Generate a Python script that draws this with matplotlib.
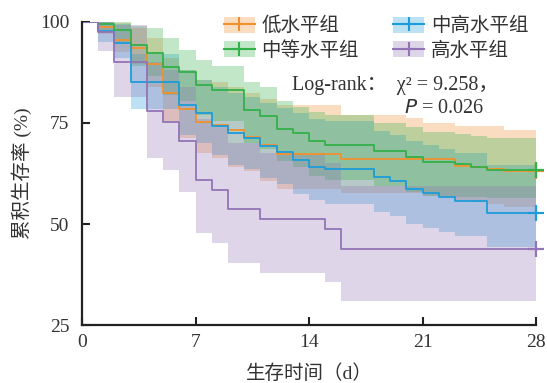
import matplotlib
matplotlib.use('Agg')
import matplotlib.pyplot as plt
from matplotlib.patches import Patch
from matplotlib.lines import Line2D

plt.rcParams['font.family'] = ['Liberation Serif', 'Noto Sans CJK SC']
plt.rcParams['axes.unicode_minus'] = False

# ── Data ──────────────────────────────────────────────────────
groups = ['低水平组', '中高水平组', '中等水平组', '高水平组']
colors = ['#F0912F', '#1E9CD8', '#33B04A', '#9274B6']
end_day = 28

low_t   = [0, 1, 2, 3, 4, 5, 6, 7, 8, 9, 10, 11, 12, 16, 20, 21, 23, 24, 25, 26]
low_s   = [100, 98.6, 95.5, 93.5, 89.5, 82.4, 78.5, 75.3, 74.6, 73.3, 71.5, 69.6, 67.4, 66.2, 66.2, 66.2, 64.4, 64.0, 63.6, 63.1]
low_lo  = [100, 97, 92.5, 89.5, 84, 75.5, 71.2, 67.5, 66.3, 64.2, 63, 60.6, 58.7, 57.6, 57.6, 57, 56, 55.5, 55, 54.3]
low_hi  = [100, 100, 99.7, 98.5, 96, 91, 88, 85.5, 85, 84, 82.5, 81, 79.5, 77, 76.2, 75.1, 74.3, 74.3, 74.3, 73.3]

mh_t    = [0, 1, 2, 3, 6, 7, 8, 9, 10, 11, 12, 13, 14, 15, 18, 19, 20, 21, 22, 23, 25]
mh_s    = [100, 97.8, 94.7, 85, 79.5, 77.5, 74.3, 72.4, 71.2, 69.4, 67.9, 65.8, 64.2, 63.5, 61.7, 60.7, 58.6, 57.7, 56.8, 55.8, 52.8]
mh_lo   = [100, 95, 91, 78.5, 72, 70, 67, 64.5, 63.5, 61.5, 60, 57.5, 56, 55, 53, 52, 50, 49, 48, 47, 44.4]
mh_hi   = [100, 100, 99.5, 92, 88, 85.5, 84, 82.5, 81.5, 80, 78.7, 77.5, 76, 75.5, 73, 72, 70.5, 69.5, 68.5, 67.5, 64.5]

mid_t   = [0, 1, 2, 3, 4, 5, 6, 7, 8, 10, 11, 12, 13, 14, 15, 18, 20, 21, 23, 24, 25]
mid_s   = [100, 99.5, 98, 94.3, 92.2, 88.9, 87.7, 84.4, 83.2, 78.3, 76.7, 73.6, 72.4, 70.6, 69.5, 68.1, 66.5, 65.3, 64.8, 64.2, 63.3]
mid_lo  = [100, 98, 95, 89, 86.5, 82, 80.5, 77, 75.5, 70, 68.5, 65.5, 64, 62, 61, 59.5, 58, 57, 56.8, 56.6, 56.4]
mid_hi  = [100, 100, 100, 99, 98.5, 96, 93, 90.5, 89, 85.2, 83.8, 80.5, 79, 77.8, 77, 75, 74, 72.8, 72.2, 71.8, 71.2]

high_t  = [0, 1, 2, 4, 5, 6, 7, 8, 9, 11, 15, 16]
high_s  = [100, 97.5, 90, 78, 75.3, 70.5, 61, 58.5, 53.6, 51.2, 48.8, 43.9]
high_lo = [100, 92.8, 81.5, 66.3, 63.4, 58, 47.7, 45.2, 40.3, 37.9, 35.6, 31]
high_hi = [100, 100, 99.3, 90, 88, 84, 76, 74, 70, 67.5, 65, 59.5]

series = [
    (low_t, low_s, low_lo, low_hi),
    (mh_t, mh_s, mh_lo, mh_hi),
    (mid_t, mid_s, mid_lo, mid_hi),
    (high_t, high_s, high_lo, high_hi),
]

# ── Plot ───────────────────────────────────────────────────────
fig = plt.figure(figsize=(5.47, 3.83), dpi=100)
ax = fig.add_axes([0.150, 0.151, 0.830, 0.792])

for (t, s, lo, hi), c in zip(series, colors):
    tt = t + [end_day]
    ax.fill_between(tt, lo + [lo[-1]], hi + [hi[-1]], step='post',
                    color=c, alpha=0.3, linewidth=0)

for (t, s, lo, hi), c in zip(series, colors):
    tt = t + [end_day]
    ax.step(tt, s + [s[-1]], where='post', color=c, linewidth=1.3)
    ax.plot([end_day], [s[-1]], marker='+', color=c, markersize=11,
            markeredgewidth=1.6, linestyle='none', clip_on=False, zorder=5)

ax.set_xlim(0, 28)
ax.set_ylim(25, 100)
ax.set_xticks([0, 7, 14, 21, 28])
ax.set_yticks([25, 50, 75, 100])
ax.tick_params(direction='in', length=6, width=1.5, labelsize=14,
               colors='#222222', labelcolor='#333333')
ax.tick_params(axis='y', pad=9)
ax.tick_params(axis='x', pad=6)
for side in ['top', 'right']:
    ax.spines[side].set_visible(False)
for side in ['left', 'bottom']:
    ax.spines[side].set_linewidth(1.6)
    ax.spines[side].set_color('#222222')

ax.set_xlabel('生存时间（d）', fontsize=14, color='#333333', labelpad=10)
ax.set_ylabel('累积生存率 (%)', fontsize=14, color='#333333', labelpad=6)

# legend: filled band with a "+" line on top
handles = []
for c in colors:
    handles.append((Patch(facecolor=c, alpha=0.3, edgecolor='none'),
                    Line2D([], [], color=c, marker='+', markersize=10,
                           markeredgewidth=1.5, linewidth=1.5)))
order = [0, 2, 1, 3]
ax.legend([handles[i] for i in order], [groups[i] for i in order],
          ncol=2, loc='upper right', bbox_to_anchor=(1.022, 1.075),
          frameon=False, fontsize=14, handlelength=1.6, handleheight=0.9,
          handletextpad=0.35, columnspacing=1.75, labelspacing=0.3,
          labelcolor='#333333')

ax.text(0.462, 0.79, 'Log-rank：  χ² = 9.258，', transform=ax.transAxes,
        fontsize=14.5, color='#333333', va='center', ha='left')
ax.text(0.71, 0.715, '$P$ = 0.026', transform=ax.transAxes,
        fontsize=14.5, color='#333333', va='center', ha='left')

fig.savefig('out.png', dpi=100)
